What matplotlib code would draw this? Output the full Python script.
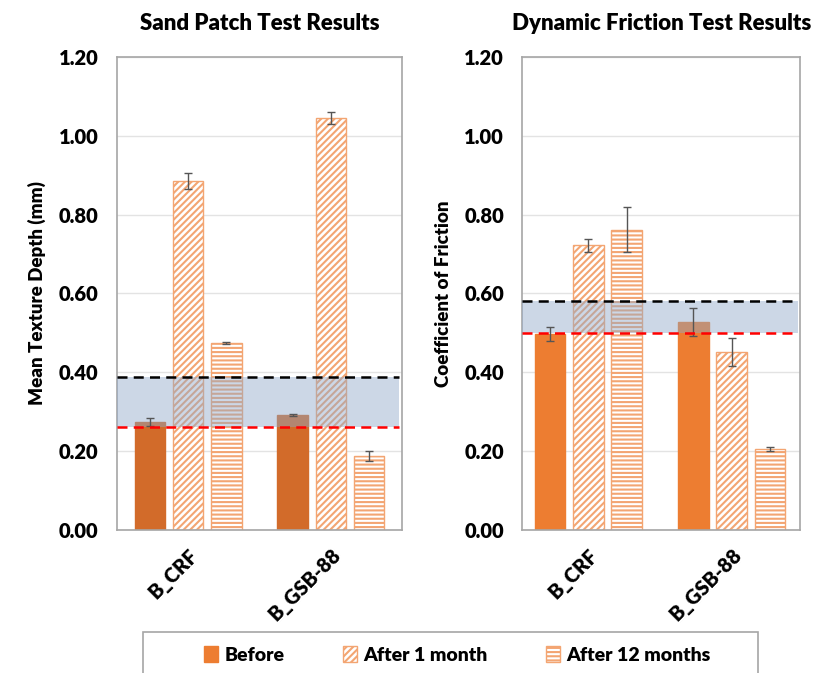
import numpy as np
import matplotlib
matplotlib.use("Agg")
import matplotlib.pyplot as plt
from matplotlib.patches import Patch, Rectangle

plt.rcParams['font.family'] = ['Lato', 'DejaVu Sans']
plt.rcParams['font.weight'] = 'heavy'
plt.rcParams['hatch.linewidth'] = 1.5

# data
sites = ['B_CRF', 'B_GSB-88']
series = ['Before', 'After 1 month', 'After 12 months']

mtd = [[0.274, 0.292], [0.885, 1.045], [0.475, 0.187]]
mtd_err = [[0.010, 0.003], [0.020, 0.015], [0.003, 0.013]]
mtd_band = (0.262, 0.388)

cof = [[0.497, 0.527], [0.722, 0.452], [0.762, 0.205]]
cof_err = [[0.018, 0.035], [0.016, 0.035], [0.058, 0.005]]
cof_band = (0.500, 0.582)

yticks = [0.0, 0.2, 0.4, 0.6, 0.8, 1.0, 1.2]

light = '#F3A572'
W = 'heavy'
fig = plt.figure(figsize=(8.16, 6.73), dpi=100)
ax1 = fig.add_axes([0.143, 0.2125, 0.350, 0.703])
ax2 = fig.add_axes([0.640, 0.2125, 0.341, 0.703])

x = np.arange(len(sites))
w = 0.215
step = 0.267


def draw(ax, vals, errs, band, before_col, title, ylabel, xlim):
    styles = [dict(color=before_col, edgecolor=before_col),
              dict(facecolor='white', edgecolor=light, hatch='/////'),
              dict(facecolor='white', edgecolor=light, hatch='----')]
    for i in range(3):
        ax.bar(x + (i - 1) * step, vals[i], w, zorder=2, linewidth=1.0, **styles[i])
        ax.errorbar(x + (i - 1) * step, vals[i], yerr=errs[i], fmt='none',
                    ecolor='#555555', elinewidth=1.0, capsize=3, capthick=1.0, zorder=4)
    ax.axhspan(band[0], band[1], xmin=0.0, xmax=0.99, color='#8FA8C8', alpha=0.45,
               lw=0, zorder=3)
    ax.axhline(band[1], xmin=0.0, xmax=0.99, color='black', ls=(0, (4, 2.5)), lw=1.8, zorder=5)
    ax.axhline(band[0], xmin=0.0, xmax=0.99, color='red', ls=(0, (4, 2.5)), lw=1.8, zorder=5)
    ax.set_ylim(0, 1.2)
    ax.set_xlim(*xlim)
    ax.set_yticks(yticks)
    ax.set_yticklabels(['%.2f' % t for t in yticks], fontsize=14.5, fontweight=W)
    ax.set_xticks(x)
    ax.set_xticklabels(sites, rotation=45, ha='right', va='top', fontsize=14.5,
                       fontweight=W, rotation_mode='anchor')
    ax.tick_params(axis='y', length=0, pad=13)
    ax.tick_params(axis='x', length=0, pad=11)
    ax.grid(axis='y', color='#E3E3E3', lw=1.0, zorder=0)
    ax.set_axisbelow(True)
    for s in ax.spines.values():
        s.set_color('#A6A6A6')
        s.set_linewidth(1.2)
    ax.set_title(title, fontsize=16, fontweight=W, pad=19)
    ax.set_ylabel(ylabel, fontsize=13.5, fontweight=W, labelpad=9)


draw(ax1, mtd, mtd_err, mtd_band, '#D26B2A', 'Sand Patch Test Results',
     'Mean Texture Depth (mm)', (-0.5, 1.5))
draw(ax2, cof, cof_err, cof_band, '#ED7D31', 'Dynamic Friction Test Results',
     'Coefficient of Friction', (-0.46, 1.48))

# legend box at the bottom (cut by figure edge, as in the reference)
fig.add_artist(Rectangle((143 / 816, -0.05), 615 / 816, 0.111, transform=fig.transFigure,
                         facecolor='white', edgecolor='#A6A6A6', lw=1.2))
handles = [Patch(color='#ED7D31'),
           Patch(facecolor='white', edgecolor=light, hatch='/////'),
           Patch(facecolor='white', edgecolor=light, hatch='----')]
fig.legend(handles, series, loc='center', bbox_to_anchor=(0.560, 0.027), ncol=3,
           frameon=False, handlelength=0.75, handleheight=0.9,
           handletextpad=0.3, columnspacing=3.0, prop={'weight': W, 'size': 14})

fig.savefig('out.png', dpi=100)
